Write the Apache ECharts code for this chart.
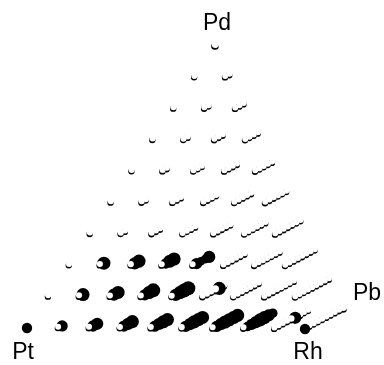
<!DOCTYPE html>
<html>
<head>
<meta charset="utf-8">
<title>Pt-Rh-Pd-Pb</title>
<script src="https://cdn.jsdelivr.net/npm/echarts@6/dist/echarts.min.js"></script>
<style>
html, body { margin: 0; padding: 0; background: #fff; }
#chart { width: 384px; height: 365px; }
</style>
</head>
<body>
<div id="chart"></div>
<script>
// composition grid in ninths: row r from Pd corner, column c toward Rh, step k toward Pb
var vertexNames = [ 'Pt', 'Rh', 'Pd', 'Pb' ];
var gridSteps = 9;

// activity per sphere: activity[row][column][k]
var activity = [
	[ [ 3 ] ],
	[ [ 1.5 ], [ 1.5, 1.5 ] ],
	[ [ 1.5 ], [ 1.5, 1.5 ], [ 1.5, 1.5, 1.5 ] ],
	[ [ 1.5 ], [ 1.5, 1.5 ], [ 1.5, 1.5, 1.5 ], [ 1.5, 1.5, 1.5, 1.5 ] ],
	[ [ 1.5 ], [ 1.5, 1.5 ], [ 1.5, 1.5, 1.5 ], [ 1.5, 1.5, 1.5, 1.5 ],
		[ 1.5, 1.5, 1.5, 1.5, 1.5 ] ],
	[ [ 1.5 ], [ 1.5, 1.5 ], [ 1.5, 1.5, 1.5 ], [ 1.5, 1.5, 1.5, 1.5 ],
		[ 1.5, 1.5, 1.5, 1.5, 1.5 ], [ 1.5, 1.5, 1.5, 1.5, 1.5, 1.5 ] ],
	[ [ 1.5 ], [ 1.5, 1.5 ], [ 1.5, 1.5, 1.5 ], [ 1.5, 1.5, 1.5, 1.5 ],
		[ 1.5, 1.5, 1.5, 1.5, 1.5 ], [ 1.5, 1.5, 1.5, 1.5, 1.5, 1.5 ],
		[ 1.5, 1.5, 1.5, 1.5, 1.5, 1.5, 1.5 ] ],
	[ [ 1.5 ], [ 1.5, 9 ], [ 1.5, 8, 9 ], [ 1.5, 6, 9, 9 ], [ 1.5, 7, 4, 4, 8 ],
		[ 1.5, 1.5, 1.5, 1.5, 1.5, 1.5 ],
		[ 1.5, 1.5, 1.5, 1.5, 1.5, 1.5, 1.5 ],
		[ 1.5, 1.5, 1.5, 1.5, 1.5, 1.5, 1.5, 1.5 ] ],
	[ [ 1.5 ], [ 1.5, 9 ], [ 1.5, 8, 9 ], [ 1.5, 7, 9, 10 ], [ 1.5, 8, 9, 10, 10 ],
		[ 1.5, 2, 2, 3, 9, 3 ],
		[ 1.5, 1.5, 1.5, 1.5, 1.5, 1.5, 1.5 ],
		[ 1.5, 1.5, 1.5, 1.5, 1.5, 1.5, 1.5, 1.5 ],
		[ 1.5, 1.5, 1.5, 1.5, 1.5, 1.5, 1.5, 1.5, 1.5 ] ],
	[ [ 6 ], [ 1.5, 7 ], [ 1.5, 7, 8 ], [ 1.5, 7, 8, 9 ], [ 1.5, 7, 8, 9, 9 ],
		[ 1.5, 7, 8, 9, 9, 9 ], [ 1.5, 7, 8, 9, 9, 9, 9 ],
		[ 1.5, 5, 7, 8, 9, 9, 8, 5 ],
		[ 1.5, 1.5, 1.5, 1.5, 2, 8, 3, 1.5, 1.5 ],
		[ 6, 1.5, 1.5, 1.5, 1.5, 1.5, 1.5, 1.5, 1.5, 3 ] ]
];

// projected corners of the composition tetrahedron (axis units)
var corners = {
	Pt : [ 27, 328 ],
	Rh : [ 305, 329 ],
	Pd : [ 215, 46 ],
	Pb : [ 343, 309 ]
};
var labelPos = {
	Pt : [ 23, 353 ],
	Rh : [ 308, 353 ],
	Pd : [ 217, 24 ],
	Pb : [ 367, 294 ]
};

function project(frac) {
	var x = 0, y = 0;
	for (var i = 0; i < vertexNames.length; i++) {
		var p = corners[vertexNames[i]];
		x += frac[i] * p[0];
		y += frac[i] * p[1];
	}
	return [ x, y ];
}

var points = [];
for (var r = 0; r < activity.length; r++) {
	for (var c = 0; c < activity[r].length; c++) {
		var cluster = activity[r][c];
		// back (Pb side) first, so the front sphere is drawn last
		for (var k = cluster.length - 1; k >= 0; k--) {
			var frac = [ (r - c) / gridSteps, (c - k) / gridSteps,
					(gridSteps - r) / gridSteps, k / gridSteps ];
			var xy = project(frac);
			points.push([ xy[0], xy[1], cluster[k] ]);
		}
	}
}

function renderSphere(params, api) {
	var p = api.coord([ api.value(0), api.value(1) ]);
	var v = api.value(2);
	var rad = (5 + 0.9 * v) / 2;
	if (v >= 4) {
		return {
			type : 'circle',
			shape : { cx : p[0], cy : p[1], r : rad },
			style : { fill : '#000' }
		};
	}
	// small sphere: only the shaded lower rim shows, like a cup
	return {
		type : 'group',
		children : [ {
			type : 'circle',
			shape : { cx : p[0], cy : p[1], r : rad },
			style : { fill : '#000' }
		}, {
			type : 'circle',
			shape : { cx : p[0] + 0.08 * rad, cy : p[1] - 0.45 * rad, r : 0.95 * rad },
			style : { fill : '#fff' }
		} ]
	};
}

var labels = vertexNames.map(function(name) {
	return {
		type : 'text',
		x : labelPos[name][0],
		y : labelPos[name][1],
		style : {
			text : name,
			font : '23px "Liberation Sans", Arial, sans-serif',
			fill : '#000',
			align : 'center',
			verticalAlign : 'middle'
		}
	};
});

var myChart = echarts.init(document.getElementById('chart'));
var option = {
	animation : false,
	backgroundColor : '#fff',
	grid : { left : 0, right : 0, top : 0, bottom : 0 },
	xAxis : { type : 'value', min : 0, max : 384, show : false },
	yAxis : { type : 'value', min : 0, max : 365, inverse : true, show : false },
	graphic : labels,
	series : [ {
		type : 'custom',
		renderItem : renderSphere,
		data : points,
		clip : false
	} ]
};
myChart.setOption(option);
</script>
</body>
</html>
